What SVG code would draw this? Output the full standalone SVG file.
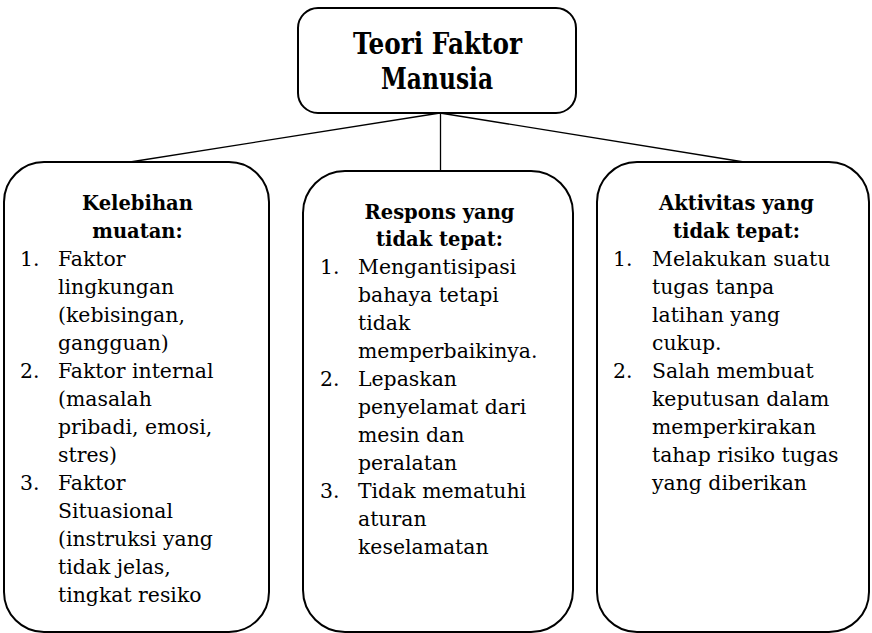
<svg xmlns="http://www.w3.org/2000/svg" width="872" height="633" viewBox="0 0 872 633">
<style>
.box{fill:#fff;stroke:#000;stroke-width:2}
.con{stroke:#000;stroke-width:1.3;fill:none}
.t{font-family:"DejaVu Serif","Liberation Serif",serif;font-size:20.4px;fill:#000}
.h{font-family:"DejaVu Serif","Liberation Serif",serif;font-size:19.5px;font-weight:bold;fill:#000;text-anchor:middle}
.title{font-family:"DejaVu Serif","Liberation Serif",serif;font-size:30px;font-weight:bold;fill:#000;text-anchor:middle}
</style>
<rect width="872" height="633" fill="#fff"/>
<g id="connectors">
<line class="con" x1="440" y1="113" x2="130" y2="162"/>
<line class="con" x1="440.5" y1="113" x2="440.5" y2="171"/>
<line class="con" x1="440" y1="113" x2="744" y2="162"/>
</g>
<g id="node-title">
<rect class="box" x="298" y="8" width="278" height="105" rx="20"/>
<text class="title" x="437.5" y="54" textLength="169" lengthAdjust="spacingAndGlyphs">Teori Faktor</text>
<text class="title" x="437" y="89" textLength="112" lengthAdjust="spacingAndGlyphs">Manusia</text>
</g>
<g id="node-kelebihan">
<rect class="box" x="4" y="162" width="265" height="470" rx="40"/>
<text class="h" x="137.5" y="210">Kelebihan</text>
<text class="h" x="137.5" y="238">muatan:</text>
<text class="t" x="20" y="266">1.</text>
<text class="t" x="58" y="266">Faktor</text>
<text class="t" x="58" y="294">lingkungan</text>
<text class="t" x="58" y="322">(kebisingan,</text>
<text class="t" x="58" y="350">gangguan)</text>
<text class="t" x="20" y="378">2.</text>
<text class="t" x="58" y="378">Faktor internal</text>
<text class="t" x="58" y="406">(masalah</text>
<text class="t" x="58" y="434">pribadi, emosi,</text>
<text class="t" x="58" y="462">stres)</text>
<text class="t" x="20" y="490">3.</text>
<text class="t" x="58" y="490">Faktor</text>
<text class="t" x="58" y="518">Situasional</text>
<text class="t" x="58" y="546">(instruksi yang</text>
<text class="t" x="58" y="574">tidak jelas,</text>
<text class="t" x="58" y="602">tingkat resiko</text>
</g>
<g id="node-respons">
<rect class="box" x="303" y="171" width="270" height="461" rx="42"/>
<text class="h" x="439.5" y="219">Respons yang</text>
<text class="h" x="439.5" y="246">tidak tepat:</text>
<text class="t" x="320" y="274">1.</text>
<text class="t" x="358" y="274">Mengantisipasi</text>
<text class="t" x="358" y="302">bahaya tetapi</text>
<text class="t" x="358" y="330">tidak</text>
<text class="t" x="358" y="358">memperbaikinya.</text>
<text class="t" x="320" y="386">2.</text>
<text class="t" x="358" y="386">Lepaskan</text>
<text class="t" x="358" y="414">penyelamat dari</text>
<text class="t" x="358" y="442">mesin dan</text>
<text class="t" x="358" y="470">peralatan</text>
<text class="t" x="320" y="498">3.</text>
<text class="t" x="358" y="498">Tidak mematuhi</text>
<text class="t" x="358" y="526">aturan</text>
<text class="t" x="358" y="554">keselamatan</text>
</g>
<g id="node-aktivitas">
<rect class="box" x="597" y="162" width="272" height="470" rx="40"/>
<text class="h" x="736.5" y="210">Aktivitas yang</text>
<text class="h" x="736.5" y="238">tidak tepat:</text>
<text class="t" x="613" y="266">1.</text>
<text class="t" x="652" y="266">Melakukan suatu</text>
<text class="t" x="652" y="294">tugas tanpa</text>
<text class="t" x="652" y="322">latihan yang</text>
<text class="t" x="652" y="350">cukup.</text>
<text class="t" x="613" y="378">2.</text>
<text class="t" x="652" y="378">Salah membuat</text>
<text class="t" x="652" y="406">keputusan dalam</text>
<text class="t" x="652" y="434">memperkirakan</text>
<text class="t" x="652" y="462">tahap risiko tugas</text>
<text class="t" x="652" y="490">yang diberikan</text>
</g>
</svg>
